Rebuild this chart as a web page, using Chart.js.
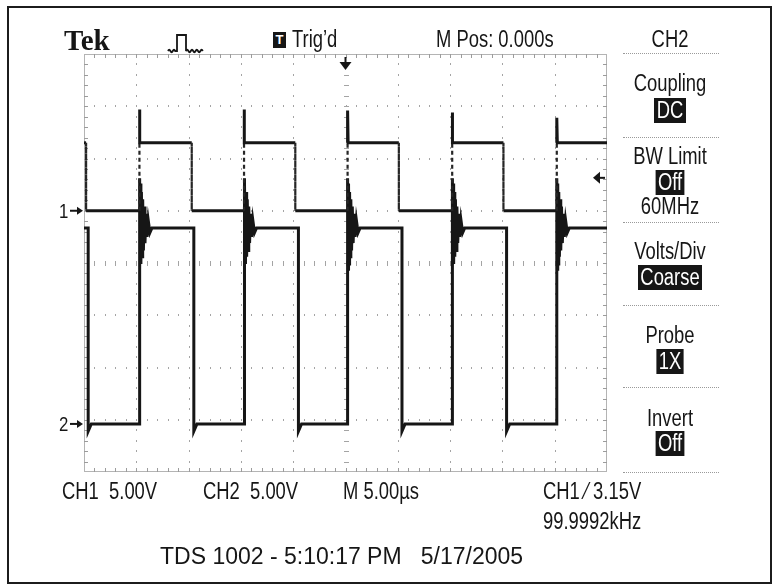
<!DOCTYPE html>
<html>
<head>
<meta charset="utf-8">
<script src="https://cdn.jsdelivr.net/npm/chart.js@4.4.0/dist/chart.umd.min.js"></script>
<style>
html, body { margin: 0; padding: 0; background: #fff; }
#wrap { position: relative; width: 777px; height: 586px; overflow: hidden; background: #fff; }
#scope { position: absolute; left: 0; top: 0; }
#frame { position: absolute; left: 7px; top: 6px; width: 765px; height: 578px; border: 2px solid #1c1c1c; box-sizing: border-box; }
.t { position: absolute; font-family: "Liberation Sans", Arial, sans-serif; font-size: 23px; line-height: 1; color: #161616; white-space: pre; transform: scaleX(0.8); transform-origin: left top; }
.m { left: 610px; width: 120px; text-align: center; transform-origin: center top; }
.b { display: inline-block; background: #161616; color: #fff; padding: 1px 3px 1px 3px; }
.sep { position: absolute; left: 623px; width: 96px; height: 0; border-top: 1px dotted #9a9a9a; }
</style>
</head>
<body>
<div id="wrap">
  <canvas id="scope" width="777" height="586"></canvas>
  <div id="frame"></div>

  <div class="t" style="left:64px;top:26px;font-family:'Liberation Serif','DejaVu Serif',serif;font-weight:bold;font-size:29px;transform:none;">Tek</div>
  <svg style="position:absolute;left:166px;top:31px" width="42" height="24">
    <path d="M2 20 q1.2 -2.5 2.4 0 t2.4 0 t2.4 0 L11 20 L11 4 L20 4 L20 20 q1.2 -2.5 2.4 0 t2.4 0 t2.4 0 t2.4 0 t2.4 0 t2.4 0 t2.4 0" fill="none" stroke="#161616" stroke-width="1.8"/>
  </svg>
  <div style="position:absolute;left:273px;top:32px;width:13px;height:16px;background:#161616;color:#fff;font:bold 13px 'Liberation Sans',sans-serif;text-align:center;line-height:16px;">T</div>
  <div class="t" style="left:292px;top:28px;">Trig’d</div>
  <div class="t" style="left:436px;top:28px;">M Pos: 0.000s</div>
  <div class="t m" style="top:28px;">CH2</div>
  <div class="sep" style="top:53px;"></div>

  <div class="t m" style="top:72px;">Coupling</div>
  <div class="t m" style="top:98px;"><span class="b">DC</span></div>
  <div class="sep" style="top:137px;"></div>
  <div class="t m" style="top:145px;">BW Limit</div>
  <div class="t m" style="top:170px;"><span class="b">Off</span></div>
  <div class="t m" style="top:195px;">60MHz</div>
  <div class="sep" style="top:222px;"></div>
  <div class="t m" style="top:240px;">Volts/Div</div>
  <div class="t m" style="top:265px;"><span class="b">Coarse</span></div>
  <div class="sep" style="top:305px;"></div>
  <div class="t m" style="top:324px;">Probe</div>
  <div class="t m" style="top:349px;"><span class="b">1X</span></div>
  <div class="sep" style="top:387px;"></div>
  <div class="t m" style="top:407px;">Invert</div>
  <div class="t m" style="top:431px;"><span class="b">Off</span></div>
  <div class="sep" style="top:472px;"></div>

  <div class="t" style="left:62px;top:480px;">CH1  5.00V</div>
  <div class="t" style="left:203px;top:480px;">CH2  5.00V</div>
  <div class="t" style="left:343px;top:480px;">M 5.00µs</div>
  <div class="t" style="left:543px;top:480px;">CH1 ⁄ 3.15V</div>
  <div class="t" style="left:543px;top:510px;">99.9992kHz</div>
  <div class="t" style="left:160px;top:545px;font-size:23px;transform:none;">TDS 1002 - 5:10:17 PM   5/17/2005</div>
</div>

<script>
// time base: 5 us/div, 10 div across, trigger at 0
const timeRange = [-25, 25];
const divsX = 10;
const divsY = 8;

// CH1 (5 V/div, ground 1 div above centre)
const ch1Fall = [-24.8, -14.7, -4.8, 5.1, 15.1];
const ch1Rise = [-19.7, -9.7, 0.2, 10.2, 20.2];
const ch1Low = 0;
const ch1High = 6.5;
const ch1Spike = [9.7, 9.7, 9.6, 9.4, 8.9];
const ch1Range = [-25, 15];

// CH2 (5 V/div, ground 3.08 div below centre)
const ch2Fall = [-24.6, -14.5, -4.5, 5.4, 15.4];
const ch2Rise = [-19.7, -9.7, 0.2, 10.2, 20.2];
const ch2Low = 0;
const ch2High = 18.75;
const ch2Undershoot = -0.7;
const ch2Range = [-4.6, 35.4];

// ringing after each CH2 rising edge
const ringDt = [0, 0.04, 0.09, 0.14, 0.19, 0.25, 0.31, 0.38, 0.45, 0.53, 0.62, 0.72, 0.84, 1.0, 1.2];
const ringV = [23.5, 14.8, 23.0, 15.3, 22.2, 16.0, 21.5, 16.6, 20.8, 17.3, 20.1, 17.9, 19.5, 18.3, 18.75];

const trigPos = 0;
const trigLevel = 3.15;

function ch1Points() {
  const pts = [{ x: timeRange[0], y: ch1High }];
  for (let i = 0; i < ch1Fall.length; i++) {
    pts.push({ x: ch1Fall[i], y: ch1High }, { x: ch1Fall[i], y: ch1Low });
    pts.push({ x: ch1Rise[i], y: ch1Low }, { x: ch1Rise[i], y: ch1High });
    pts.push({ x: ch1Rise[i], y: ch1Spike[i] }, { x: ch1Rise[i] + 0.05, y: ch1High });
  }
  pts.push({ x: timeRange[1], y: ch1High });
  return pts;
}

function ch2Points() {
  const pts = [{ x: timeRange[0], y: ch2High }];
  for (let i = 0; i < ch2Fall.length; i++) {
    pts.push({ x: ch2Fall[i], y: ch2High }, { x: ch2Fall[i], y: ch2Undershoot });
    pts.push({ x: ch2Fall[i] + 0.3, y: ch2Low }, { x: ch2Rise[i], y: ch2Low });
    ringDt.forEach((dt, k) => pts.push({ x: ch2Rise[i] + dt, y: ringV[k] }));
  }
  pts.push({ x: timeRange[1], y: ch2High });
  return pts;
}

const graticule = {
  id: 'graticule',
  beforeDatasetsDraw(chart) {
    const ctx = chart.ctx;
    const a = chart.chartArea;
    const dx = (a.right - a.left) / divsX;
    const dy = (a.bottom - a.top) / divsY;
    ctx.save();
    // dotted division lines
    ctx.fillStyle = '#a4a4a4';
    for (let i = 1; i < divsX; i++) {
      const x = Math.round(a.left + i * dx);
      for (let j = 1; j < divsY * 5; j++) {
        const y = a.top + j * dy / 5;
        if (i === divsX / 2) ctx.fillRect(x - 2, Math.round(y), 5, 1);
        else ctx.fillRect(x, Math.round(y) - 1, 1, 2);
      }
    }
    for (let j = 1; j < divsY; j++) {
      const y = Math.round(a.top + j * dy);
      for (let i = 1; i < divsX * 5; i++) {
        const x = a.left + i * dx / 5;
        if (j === divsY / 2) ctx.fillRect(Math.round(x), y - 2, 1, 5);
        else ctx.fillRect(Math.round(x), y - 1, 1, 2);
      }
    }
    // border with minor ticks
    ctx.strokeStyle = '#b4b4b4';
    ctx.lineWidth = 1;
    ctx.strokeRect(a.left + 0.5, a.top + 0.5, a.right - a.left - 1, a.bottom - a.top - 1);
    ctx.fillStyle = '#9c9c9c';
    for (let i = 1; i < divsX * 5; i++) {
      const x = Math.round(a.left + i * dx / 5);
      ctx.fillRect(x, a.top, 1, 4);
      ctx.fillRect(x, a.bottom - 4, 1, 4);
    }
    for (let j = 1; j < divsY * 5; j++) {
      const y = Math.round(a.top + j * dy / 5);
      ctx.fillRect(a.left, y, 4, 1);
      ctx.fillRect(a.right - 4, y, 4, 1);
    }
    ctx.restore();
  },
  afterDatasetsDraw(chart) {
    const ctx = chart.ctx;
    const a = chart.chartArea;
    const s = chart.scales;
    ctx.save();
    ctx.fillStyle = '#161616';
    ctx.strokeStyle = '#161616';
    ctx.font = '21px "Liberation Sans", sans-serif';
    ctx.textBaseline = 'middle';
    const marks = [['1', s.y1.getPixelForValue(0)], ['2', s.y2.getPixelForValue(0)]];
    marks.forEach(([label, y]) => {
      ctx.save();
      ctx.translate(a.left - 25, y + 1);
      ctx.scale(0.8, 1);
      ctx.fillText(label, 0, 0);
      ctx.restore();
      ctx.lineWidth = 2;
      ctx.beginPath(); ctx.moveTo(a.left - 14, y); ctx.lineTo(a.left - 6, y); ctx.stroke();
      ctx.beginPath(); ctx.moveTo(a.left - 1, y); ctx.lineTo(a.left - 7, y - 4); ctx.lineTo(a.left - 7, y + 4); ctx.closePath(); ctx.fill();
    });
    // trigger position arrow
    const tx = s.x.getPixelForValue(trigPos);
    ctx.lineWidth = 2;
    ctx.beginPath(); ctx.moveTo(tx, a.top + 3); ctx.lineTo(tx, a.top + 10); ctx.stroke();
    ctx.beginPath(); ctx.moveTo(tx, a.top + 16); ctx.lineTo(tx - 6, a.top + 8); ctx.lineTo(tx + 6, a.top + 8); ctx.closePath(); ctx.fill();
    // trigger level arrow
    const ty = s.y1.getPixelForValue(trigLevel);
    ctx.beginPath(); ctx.moveTo(a.right - 2, ty); ctx.lineTo(a.right - 8, ty); ctx.stroke();
    ctx.beginPath(); ctx.moveTo(a.right - 14, ty); ctx.lineTo(a.right - 7, ty - 6); ctx.lineTo(a.right - 7, ty + 6); ctx.closePath(); ctx.fill();
    ctx.restore();
  }
};

const isEdge = (c, top) => c.p0.parsed.x === c.p1.parsed.x && Math.max(c.p0.parsed.y, c.p1.parsed.y) <= top + 0.01;

new Chart(document.getElementById('scope'), {
  type: 'line',
  data: {
    datasets: [
      {
        label: 'CH1',
        data: ch1Points(),
        yAxisID: 'y1',
        borderColor: '#161616',
        borderWidth: 3,
        pointRadius: 0,
        tension: 0,
        segment: {
          borderDash: c => isEdge(c, ch1High) ? [4, 3] : undefined,
          borderWidth: c => isEdge(c, ch1High) ? 2.2 : undefined,
          borderColor: c => isEdge(c, ch1High) ? '#262626' : undefined
        }
      },
      {
        label: 'CH2',
        data: ch2Points(),
        yAxisID: 'y2',
        borderColor: '#161616',
        borderWidth: 3,
        pointRadius: 0,
        tension: 0
      }
    ]
  },
  options: {
    responsive: false,
    animation: false,
    events: [],
    layout: { padding: { left: 84, top: 54, right: 170, bottom: 114 } },
    plugins: { legend: { display: false }, tooltip: { enabled: false } },
    scales: {
      x: { type: 'linear', min: timeRange[0], max: timeRange[1], display: false },
      y1: { type: 'linear', min: ch1Range[0], max: ch1Range[1], display: false },
      y2: { type: 'linear', min: ch2Range[0], max: ch2Range[1], display: false }
    }
  },
  plugins: [graticule]
});
</script>
</body>
</html>
